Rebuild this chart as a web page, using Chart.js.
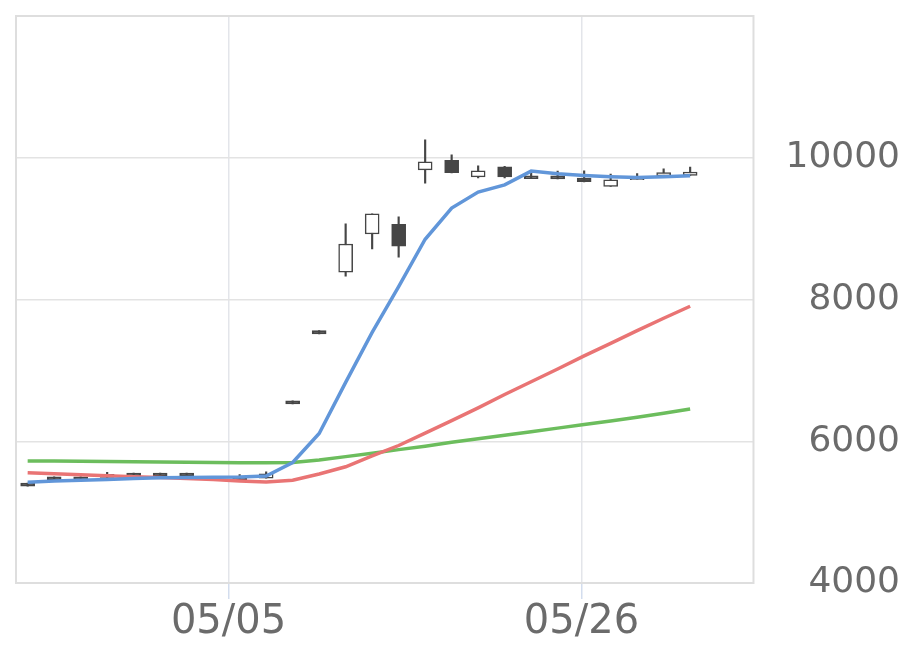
<!DOCTYPE html>
<html>
<head>
<meta charset="utf-8">
<script src="https://cdn.jsdelivr.net/npm/chart.js@4/dist/chart.umd.min.js"></script>
<style>
    html, body { margin: 0; padding: 0; background: #fff; }
    #wrap { width: 920px; height: 669px; }
</style>
</head>
<body>
<div id="wrap"><canvas id="chart"></canvas></div>
<script>
// Svíčky (index = obchodní den)
const opens  = [5410, 5498, 5498, 5535, 5552, 5552, 5552, 5492, 5492, 5480, 6570, 7560, 8386, 8924, 9061, 9830, 9962, 9731, 9872, 9745, 9745, 9712, 9594, 9690, 9745, 9750];
const closes = [5365, 5453, 5453, 5490, 5507, 5507, 5507, 5447, 5447, 5540, 6525, 7515, 8783, 9207, 8754, 9943, 9788, 9816, 9731, 9705, 9703, 9664, 9688, 9712, 9792, 9797];
const highs  = [5410, 5498, 5498, 5560, 5552, 5552, 5552, 5492, 5530, 5570, 6570, 7560, 9066, 9210, 9165, 10254, 10040, 9887, 9880, 9800, 9811, 9815, 9768, 9775, 9844, 9868];
const lows   = [5365, 5453, 5453, 5490, 5507, 5507, 5507, 5447, 5447, 5480, 6525, 7515, 8330, 8712, 8598, 9640, 9785, 9717, 9717, 9705, 9700, 9660, 9594, 9690, 9745, 9750];

// Klouzavé průměry
const maShort = [5420, 5440, 5450, 5462, 5475, 5485, 5490, 5492, 5495, 5510, 5700, 6110, 6830, 7535, 8180, 8850, 9290, 9515, 9618, 9812, 9773, 9749, 9731, 9721, 9731, 9745];
const maMid   = [5557, 5543, 5528, 5514, 5500, 5488, 5476, 5462, 5440, 5425, 5450, 5538, 5640, 5792, 5940, 6114, 6290, 6470, 6660, 6840, 7020, 7205, 7380, 7560, 7735, 7905];
const maLong  = [5722, 5720, 5718, 5715, 5712, 5708, 5704, 5700, 5697, 5695, 5700, 5736, 5783, 5830, 5882, 5930, 5985, 6035, 6085, 6135, 6185, 6235, 6285, 6340, 6395, 6455];

// Popisky osy X a jejich pozice (v jednotkách indexu)
const xTickLabels = ['05/05', '05/26'];
const xTickAt = [7.58, 20.9];
const yTicks = [4000, 6000, 8000, 10000, 12000];

const DARK = '#464646';
const FONT = "'DejaVu Sans', sans-serif";

// Rámeček kolem grafu
const framePlugin = {
    id: 'frame',
    afterDraw(chart) {
        const a = chart.chartArea;
        const ctx = chart.ctx;
        ctx.save();
        ctx.strokeStyle = '#dedede';
        ctx.lineWidth = 2;
        ctx.strokeRect(a.left, a.top, a.right - a.left, a.bottom - a.top);
        ctx.restore();
    }
};

const idx = opens.map((_, i) => i);

new Chart(document.getElementById('chart'), {
    type: 'bar',
    data: {
        datasets: [{
            type: 'line',
            data: idx.map(i => ({ x: i, y: maShort[i] })),
            borderColor: '#6196d9',
            borderWidth: 3.5,
            pointRadius: 0,
            tension: 0,
            order: 0
        }, {
            type: 'line',
            data: idx.map(i => ({ x: i, y: maMid[i] })),
            borderColor: '#e97474',
            borderWidth: 3.5,
            pointRadius: 0,
            tension: 0,
            order: 0
        }, {
            type: 'line',
            data: idx.map(i => ({ x: i, y: maLong[i] })),
            borderColor: '#6cbd5d',
            borderWidth: 3.5,
            pointRadius: 0,
            tension: 0,
            order: 0
        }, {
            // těla svíček
            data: idx.map(i => ({ x: i, y: [opens[i], closes[i]] })),
            backgroundColor: idx.map(i => closes[i] >= opens[i] ? '#ffffff' : DARK),
            borderColor: DARK,
            borderWidth: 1.5,
            borderSkipped: false,
            barThickness: 14,
            grouped: false,
            order: 1
        }, {
            // knoty
            data: idx.map(i => ({ x: i, y: [lows[i], highs[i]] })),
            backgroundColor: DARK,
            borderWidth: 0,
            barThickness: 1.5,
            grouped: false,
            order: 2
        }]
    },
    options: {
        responsive: true,
        maintainAspectRatio: false,
        animation: false,
        layout: { padding: { left: 16, top: 16, right: 20, bottom: 22 } },
        plugins: {
            legend: { display: false },
            tooltip: { enabled: false }
        },
        scales: {
            x: {
                type: 'linear',
                offset: false,
                min: -0.44,
                max: 27.39,
                afterBuildTicks: (scale) => {
                    scale.ticks = xTickAt.map(v => ({ value: v }));
                },
                border: { display: false },
                grid: {
                    offset: false,
                    color: '#e3e5ea',
                    tickColor: '#d3ddee',
                    lineWidth: 1.5,
                    tickLength: 16
                },
                ticks: {
                    autoSkip: false,
                    maxRotation: 0,
                    padding: 0,
                    color: '#6b6b6b',
                    font: { family: FONT, size: 40 },
                    callback: (v, i) => xTickLabels[i]
                }
            },
            y: {
                position: 'right',
                min: 4000,
                max: 12000,
                afterBuildTicks: (scale) => {
                    scale.ticks = yTicks.map(v => ({ value: v }));
                },
                border: { display: false },
                grid: {
                    color: '#e3e3e3',
                    lineWidth: 1.5,
                    drawTicks: true,
                    tickLength: 32,
                    tickColor: 'rgba(0,0,0,0)'
                },
                ticks: {
                    padding: 0,
                    crossAlign: 'far',
                    color: '#6b6b6b',
                    font: { family: FONT, size: 36, lineHeight: 0.85 },
                    callback: (v) => v === 12000 ? '' : v
                }
            }
        }
    },
    plugins: [framePlugin]
});
</script>
</body>
</html>
